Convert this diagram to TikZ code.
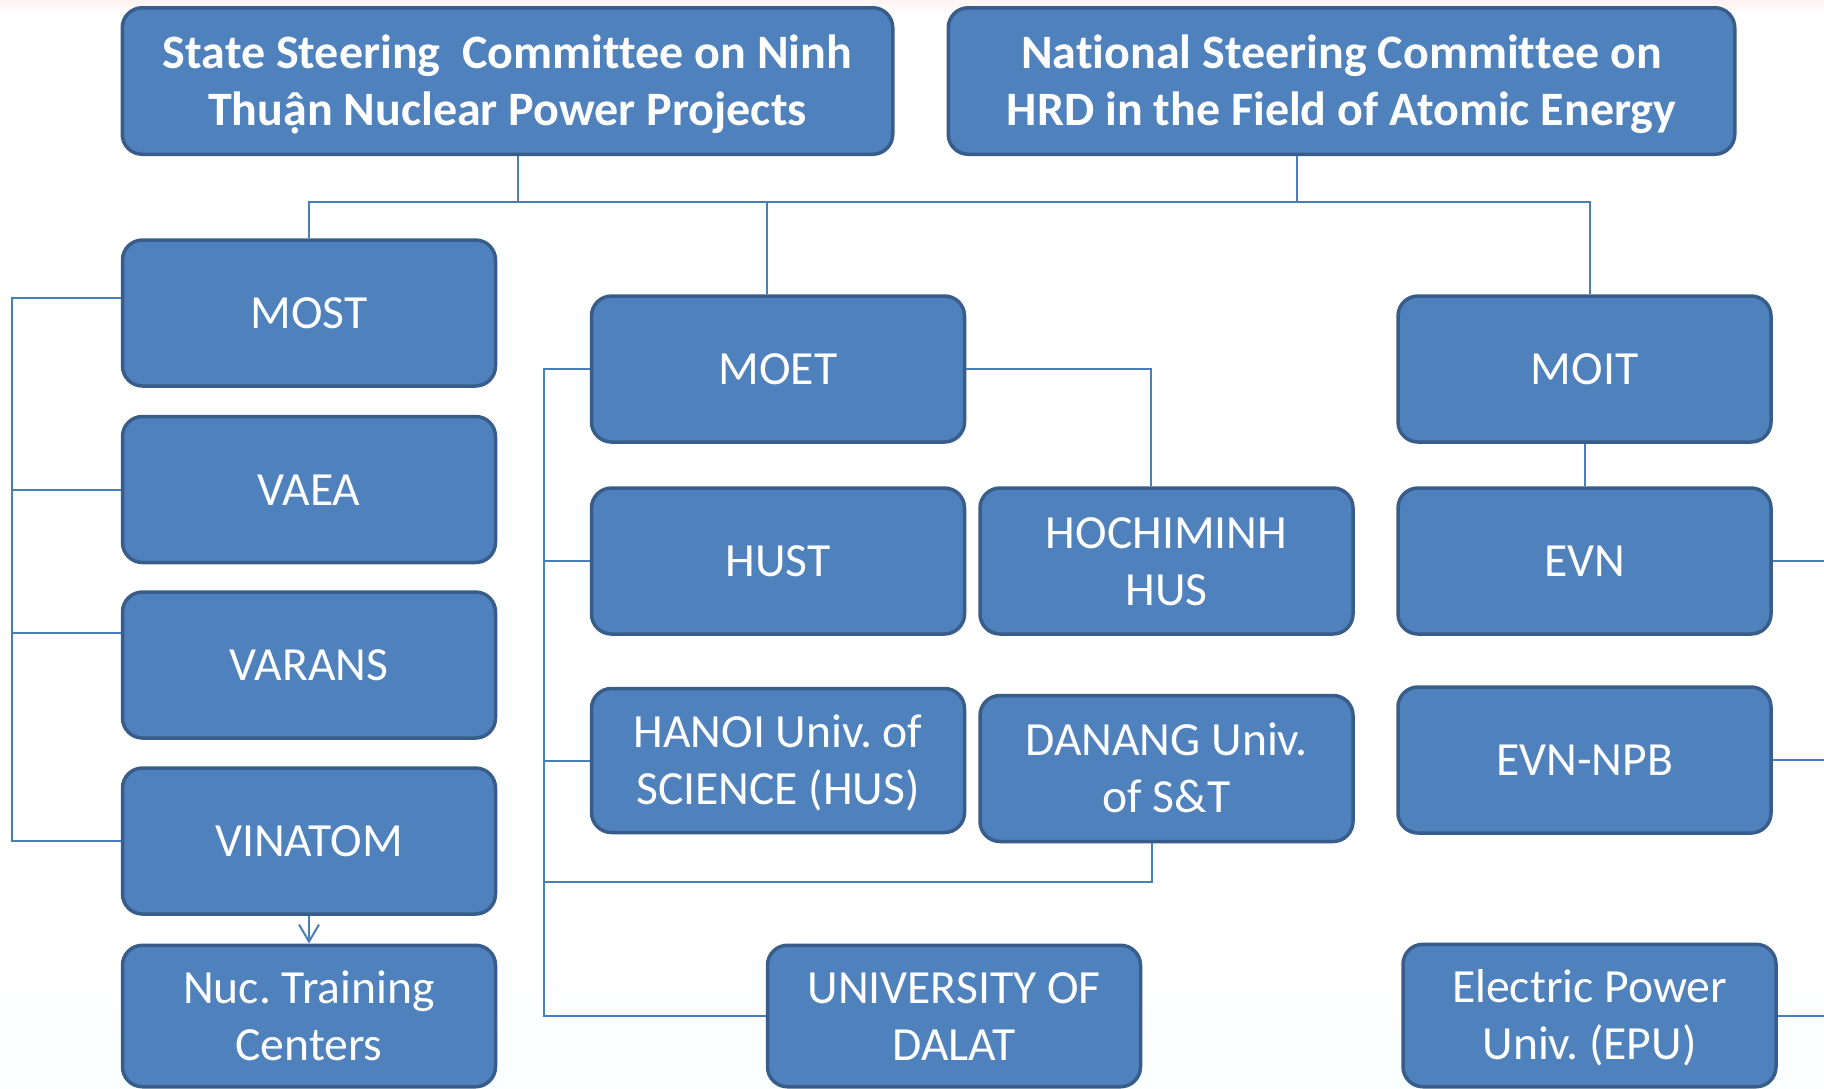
\documentclass[tikz,border=0pt]{standalone}
\usepackage{fontspec}
\setmainfont{Carlito}[Ligatures=NoCommon]
\usetikzlibrary{arrows.meta}
\definecolor{boxfill}{HTML}{4F81BD}
\definecolor{boxline}{HTML}{385D8A}
\definecolor{connline}{HTML}{4A7EBB}
\newcommand\twolines[2]{\begin{tabular}[t]{@{}c@{}}#1\\#2\end{tabular}}
\tikzset{
  orgbox/.style={rectangle, rounded corners=10pt, fill=boxfill, draw=boxline,
    line width=1.75pt, text=white, inner sep=0pt,
    font=\fontsize{23.8pt}{28.5pt}\selectfont, minimum width=186.5pt, minimum height=73pt,
    text height=15.5pt, text depth=0pt},
  twoline/.style={text height=15.5pt, text depth=28.5pt},
  titlebox/.style={orgbox, twoline, font=\fontsize{24pt}{28.5pt}\selectfont\bfseries, minimum height=73.25pt},
  conn/.style={draw=connline, line width=1pt},
}
\begin{document}
\frenchspacing
\begin{tikzpicture}[x=0.5pt,y=-0.5pt]
\useasboundingbox (0,0) rectangle (1824,1088);
\fill[white] (0,0) rectangle (1824,1088);
\shade[top color=red!5, bottom color=white] (0,0) rectangle (1824,14);
\shade[top color=white, bottom color=cyan!2] (0,980) rectangle (1824,1088);
% top committees
\node[titlebox, minimum width=385.25pt] (ssc) at (507.5,81) {\twolines{State Steering~ Committee on Ninh}{Thuận Nuclear Power Projects}};
\node[titlebox, minimum width=393.25pt] (nsc) at (1341.5,81) {\twolines{National Steering Committee on}{HRD in the Field of Atomic Energy}};
% left column
\node[orgbox] (most) at (309,313) {MOST};
\node[orgbox] (vaea) at (309,489.5) {VAEA};
\node[orgbox] (varans) at (309,665) {VARANS};
\node[orgbox] (vinatom) at (309,841) {VINATOM};
\node[orgbox, twoline, minimum height=70.75pt] (nuc) at (309,1016) {\twolines{Nuc. Training}{Centers}};
% middle columns
\node[orgbox] (moet) at (778,369) {MOET};
\node[orgbox] (hust) at (778,561) {HUST};
\node[orgbox, twoline] (hcm) at (1166.5,561) {\twolines{HOCHIMINH}{HUS}};
\node[orgbox, twoline, minimum height=72pt] (hanoi) at (778,760.5) {\twolines{HANOI Univ. of}{SCIENCE (HUS)}};
\node[orgbox, twoline] (danang) at (1166.5,768.5) {\twolines{DANANG Univ.}{of S\&T}};
\node[orgbox, twoline, minimum height=70.75pt] (dalat) at (954,1016) {\twolines{UNIVERSITY OF}{DALAT}};
% right column
\node[orgbox] (moit) at (1584.5,369) {MOIT};
\node[orgbox] (evn) at (1584.5,561) {EVN};
\node[orgbox] (evnnpb) at (1584.5,760) {EVN-NPB};
\node[orgbox, twoline, minimum height=71.25pt] (epu) at (1589.5,1015.5) {\twolines{Electric Power}{Univ. (EPU)}};
% bus coordinates
\coordinate (busL) at (308,202);
\coordinate (busR) at (1590,202);
\coordinate (lb) at (12,0);
\coordinate (mb) at (544,0);
\coordinate (rb) at (1150.5,0);
\coordinate (re) at (1830,0);
\coordinate (dn) at (0,882);
% top bus
\draw[conn] ([xshift=5pt]ssc.south) -- ([xshift=5pt]ssc.south |- busL);
\draw[conn] ([xshift=-22.25pt]nsc.south) -- ([xshift=-22.25pt]nsc.south |- busL);
\draw[conn] (most.north) -- (most.north |- busL) -- (busR) -- (busR |- moit.north);
\draw[conn] ([xshift=-5.5pt]moet.north) -- ([xshift=-5.5pt]moet.north |- busL);
% left bracket
\draw[conn] ([yshift=7.5pt]most.west) -- ([yshift=7.5pt]most.west -| lb) -- (vinatom.west -| lb) -- (vinatom.west);
\draw[conn] (vaea.west) -- (vaea.west -| lb);
\draw[conn] ([yshift=16pt]varans.west) -- ([yshift=16pt]varans.west -| lb);
% VINATOM -> training centers
\draw[conn, -{Straight Barb[length=8.5pt,width=10pt,line width=1pt]}] (vinatom.south) -- (nuc.north);
% MOET bracket
\draw[conn] (moet.west) -- (moet.west -| mb) -- (dalat.west -| mb) -- (dalat.west);
\draw[conn] (hust.west) -- (hust.west -| mb);
\draw[conn] (hanoi.west) -- (hanoi.west -| mb);
\draw[conn] (moet.east) -- (moet.east -| rb) -- (rb |- hcm.north);
\draw[conn] ([xshift=-7.25pt]danang.south) -- ([xshift=-7.25pt]danang.south |- dn) -- (dn -| mb);
% MOIT
\draw[conn] (moit.south) -- (evn.north);
\draw[conn] (evn.east) -- (evn.east -| re);
\draw[conn] (evnnpb.east) -- (evnnpb.east -| re);
\draw[conn] (epu.east) -- (epu.east -| re);
\end{tikzpicture}
\end{document}
